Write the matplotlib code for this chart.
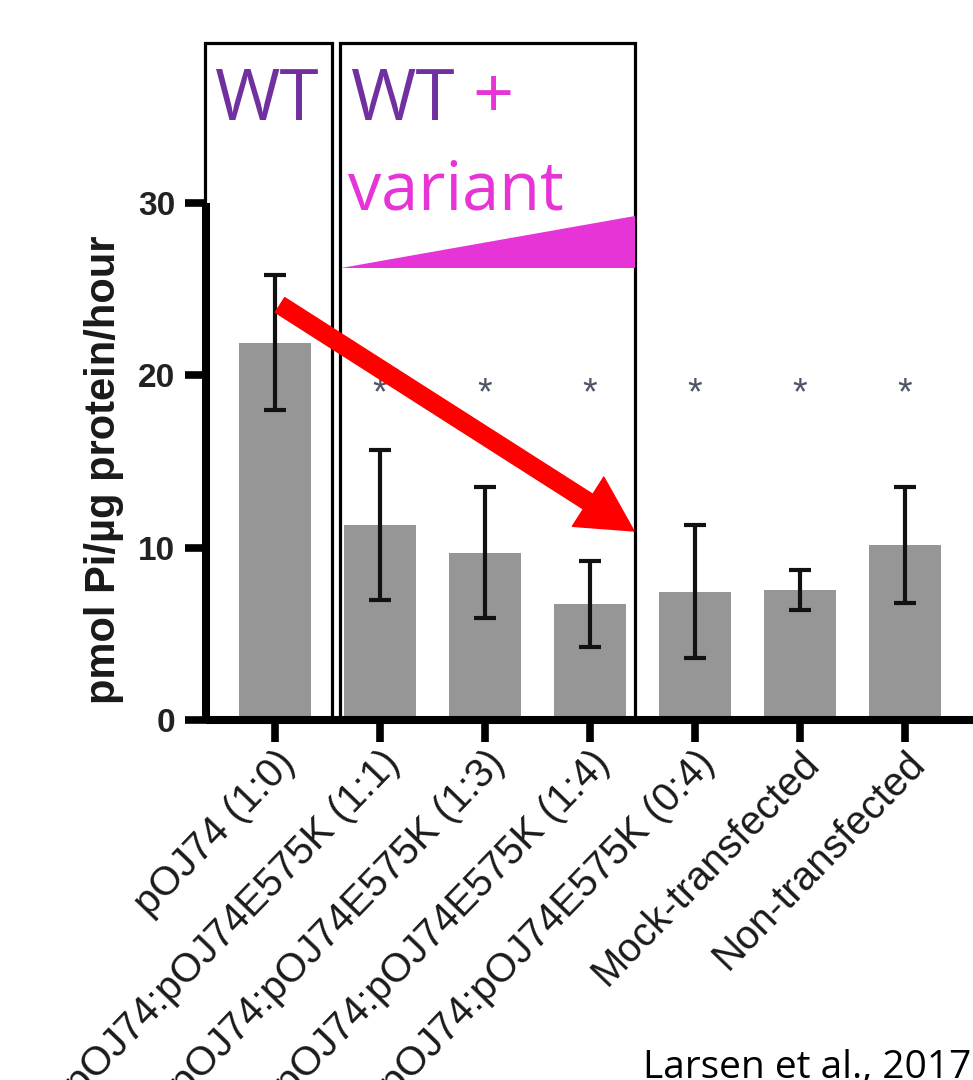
import matplotlib
matplotlib.use("Agg")
import matplotlib.pyplot as plt
from matplotlib.patches import Rectangle, Polygon
import numpy as np

# Acid phosphatase activity (pmol Pi/ug protein/hour), mean +/- SD
categories = [
    "pOJ74 (1:0)",
    "pOJ74:pOJ74E575K (1:1)",
    "pOJ74:pOJ74E575K (1:3)",
    "pOJ74:pOJ74E575K (1:4)",
    "pOJ74:pOJ74E575K (0:4)",
    "Mock-transfected",
    "Non-transfected",
]
means = [21.9, 11.3, 9.7, 6.75, 7.45, 7.55, 10.15]
errors = [3.9, 4.35, 3.8, 2.5, 3.85, 1.15, 3.35]
significant = [False, True, True, True, True, True, True]
star_level = 18.3
yticks = [0, 10, 20, 30]

PURPLE = "#7030A0"
MAGENTA = "#E634D6"

W, H = 973, 1080
fig = plt.figure(figsize=(W / 100, H / 100), dpi=100)

# axes placed so that 0..30 spans pixel rows 720..203 and ticks sit 105 px apart
left_px, zero_px, top_px = 206, 720, 203
ax = fig.add_axes([left_px / W, 1 - zero_px / H, (W - left_px) / W, (zero_px - top_px) / H])
x = np.arange(len(categories))
ax.set_xlim((left_px - 275) / 105, (W - 275) / 105)
ax.set_ylim(0, 30)

ax.bar(x, means, width=0.68, color="#969696", zorder=2)
ax.errorbar(x, means, yerr=errors, fmt="none", ecolor="#111111",
            elinewidth=3, capsize=8, capthick=3, zorder=3)

for xi, sig in zip(x, significant):
    if sig:
        ax.text(xi, star_level, "*", ha="center", va="baseline",
                fontsize=27, color="#4f5566", family="Liberation Sans")

for side in ["top", "right"]:
    ax.spines[side].set_visible(False)
for side in ["left", "bottom"]:
    ax.spines[side].set_linewidth(5.8)
    ax.spines[side].set_color("black")
    ax.spines[side].set_capstyle("butt")

ax.set_yticks(yticks)
ax.set_yticklabels([str(t) for t in yticks], fontsize=24, fontweight="bold",
                   family="Liberation Sans", color="#222222")
ax.tick_params(axis="y", length=15, width=5.5, pad=7)
ax.set_xticks(x)
ax.set_xticklabels(categories, rotation=46, ha="right", rotation_mode="anchor",
                   fontsize=29, family="Liberation Sans", color="#1a1a1a")
ax.tick_params(axis="x", length=16, width=5.5, pad=1)

fig.text(104 / W, 1 - 470 / H, "pmol Pi/\u00b5g protein/hour", rotation=90,
         ha="center", va="center", fontsize=30, fontweight="bold",
         family="Liberation Sans", color="#1a1a1a")

# overlay: WT and WT + variant boxes
def dx(px):
    return (px - 275) / 105

def dy(py):
    return (zero_px - py) / ((zero_px - top_px) / 30)

box_top = dy(43)
ax.add_patch(Rectangle((dx(205), 0), dx(332) - dx(205), box_top, fill=False,
                       lw=2.3, ec="black", clip_on=False, zorder=4))
ax.add_patch(Rectangle((dx(340), 0), dx(635) - dx(340), box_top, fill=False,
                       lw=2.3, ec="black", clip_on=False, zorder=4))
ax.add_patch(Polygon([(dx(341), dy(268)), (dx(635), dy(216)), (dx(635), dy(268))],
                     closed=True, fc=MAGENTA, ec="none", clip_on=False, zorder=4))

ax.text(dx(215), dy(120), "WT", color=PURPLE, fontsize=51, family="Open Sans",
        ha="left", va="baseline", clip_on=False)
ax.text(dx(351), dy(120), "WT", color=PURPLE, fontsize=51, family="Open Sans",
        ha="left", va="baseline", clip_on=False)
ax.text(dx(472), dy(118), "+", color=MAGENTA, fontsize=52, family="Open Sans",
        ha="left", va="baseline", clip_on=False)
ax.text(dx(348), dy(210), "variant", color=MAGENTA, fontsize=48, family="Open Sans",
        ha="left", va="baseline", clip_on=False)

ax.annotate("", xy=(dx(634), dy(531)), xytext=(dx(280), dy(305)),
            arrowprops=dict(arrowstyle="simple,head_length=1.4,head_width=1.5,tail_width=0.45",
                            color="#FF0000", shrinkA=0, shrinkB=0, mutation_scale=28),
            annotation_clip=False, zorder=5)

fig.text(643 / W, 1 - 1078 / H, "Larsen et al., 2017", fontsize=28, family="Open Sans",
         ha="left", va="baseline", color="black")

fig.savefig("out.png", dpi=100)
